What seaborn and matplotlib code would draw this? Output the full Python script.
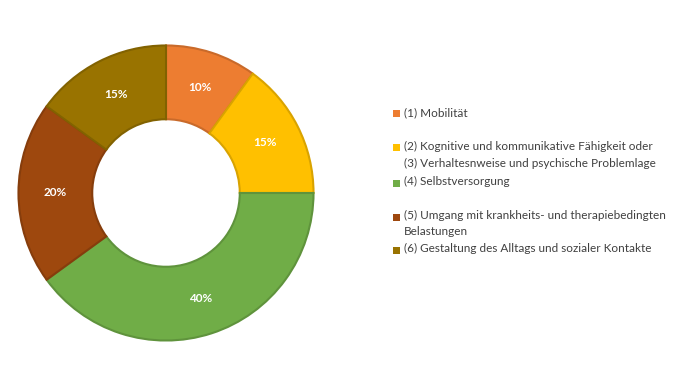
import matplotlib
matplotlib.use("Agg")
import matplotlib.pyplot as plt
import matplotlib.colors as mcolors
from matplotlib.patches import Rectangle
import seaborn as sns

categories = [
    "(1) Mobilität",
    "(2) Kognitive und kommunikative Fähigkeit oder\n(3) Verhaltesnweise und psychische Problemlage",
    "(4) Selbstversorgung",
    "(5) Umgang mit krankheits- und therapiebedingten\nBelastungen",
    "(6) Gestaltung des Alltags und sozialer Kontakte",
]
shares = [10, 15, 40, 20, 15]
colors = ["#ED7D31", "#FFC000", "#70AD47", "#9E480E", "#997300"]

sns.set_theme(style="white")
plt.rcParams["font.family"] = ["Lato", "DejaVu Sans"]

fig = plt.figure(figsize=(6.8, 3.83), dpi=100)
ax = fig.add_axes([(166 - 149) / 680, (190 - 149) / 383, 298 / 680, 298 / 383])

wedges, texts, autotexts = ax.pie(
    shares,
    colors=colors,
    startangle=90,
    counterclock=False,
    radius=1.0,
    autopct="%d%%",
    pctdistance=0.75,
    wedgeprops=dict(width=0.5, linewidth=1.5),
    textprops=dict(color="white", fontsize=8.5, fontweight="bold"),
)
# darker outline per slice
for w, c in zip(wedges, colors):
    r, g, b = mcolors.to_rgb(c)
    w.set_edgecolor((r * 0.85, g * 0.85, b * 0.85))
ax.set_xlim(-1.01, 1.01)
ax.set_ylim(-1.01, 1.01)
ax.set_aspect("equal")
ax.axis("off")

# legend, placed like the original
legend_y = [114, 148, 183, 217, 250]
for lab, c, y in zip(categories, colors, legend_y):
    fig.patches.append(Rectangle((393 / 680, 1 - (y + 3.5) / 383), 7 / 680, 7 / 383,
                                 transform=fig.transFigure, facecolor=c, edgecolor="none"))
    fig.text(404 / 680, 1 - (y - 7) / 383, lab, fontsize=8.5, color="#404040",
             va="top", ha="left", linespacing=1.6)

fig.savefig("out.png", dpi=100)
